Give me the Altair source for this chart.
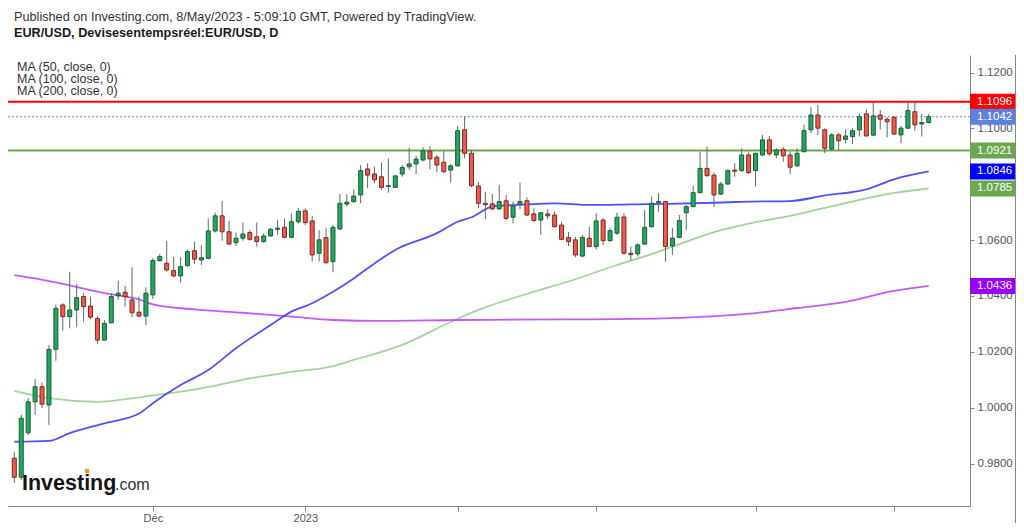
import altair as alt
import pandas as pd

HEADER = "Published on Investing.com, 8/May/2023 - 5:09:10 GMT, Powered by TradingView."
TITLE = "EUR/USD, Devisesentempsréel:EUR/USD, D"
MA_LABELS = ["MA (50, close, 0)", "MA (100, close, 0)", "MA (200, close, 0)"]

# Daily OHLC, 3 Nov 2022 .. 8 May 2023 (bar index 0..132)
opens = [0.9819, 0.9751, 0.9910, 1.0021, 1.0075, 1.0010, 1.0209, 1.0368, 1.0326, 1.0350,
         1.0398, 1.0364, 1.0319, 1.0242, 1.0304, 1.0401, 1.0413, 1.0386, 1.0342, 1.0328,
         1.0404, 1.0527, 1.0517, 1.0491, 1.0472, 1.0509, 1.0562, 1.0529, 1.0535, 1.0633,
         1.0687, 1.0630, 1.0591, 1.0607, 1.0627, 1.0612, 1.0595, 1.0615, 1.0639, 1.0646,
         1.0610, 1.0666, 1.0705, 1.0669, 1.0553, 1.0609, 1.0523, 1.0640, 1.0729, 1.0738,
         1.0762, 1.0855, 1.0837, 1.0827, 1.0792, 1.0789, 1.0837, 1.0863, 1.0873, 1.0887,
         1.0919, 1.0897, 1.0879, 1.0851, 1.0866, 1.0995, 1.0911, 1.0794, 1.0732, 1.0730,
         1.0712, 1.0741, 1.0682, 1.0729, 1.0741, 1.0694, 1.0672, 1.0694, 1.0690, 1.0654,
         1.0609, 1.0601, 1.0543, 1.0607, 1.0577, 1.0672, 1.0598, 1.0625, 1.0683, 1.0553,
         1.0551, 1.0586, 1.0648, 1.0734, 1.0738, 1.0579, 1.0610, 1.0698, 1.0720, 1.0770,
         1.0857, 1.0833, 1.0765, 1.0801, 1.0851, 1.0849, 1.0905, 1.0849, 1.0905, 1.0959,
         1.0905, 1.0925, 1.0905, 1.0866, 1.0917, 1.0995, 1.1048, 1.0995, 1.0926, 1.0977,
         1.0961, 1.0971, 1.0995, 1.1052, 1.0976, 1.1048, 1.1033, 1.1040, 1.0977, 1.1001,
         1.1060, 1.1016, 1.1021]
highs = [0.9842, 0.9974, 1.0034, 1.0102, 1.0090, 1.0225, 1.0370, 1.0374, 1.0487, 1.0443,
         1.0410, 1.0398, 1.0328, 1.0314, 1.0410, 1.0455, 1.0436, 1.0503, 1.0398, 1.0431,
         1.0535, 1.0551, 1.0598, 1.0539, 1.0539, 1.0567, 1.0595, 1.0582, 1.0678, 1.0698,
         1.0740, 1.0669, 1.0627, 1.0663, 1.0636, 1.0663, 1.0625, 1.0643, 1.0672, 1.0678,
         1.0696, 1.0716, 1.0714, 1.0687, 1.0636, 1.0643, 1.0654, 1.0765, 1.0764, 1.0782,
         1.0869, 1.0875, 1.0863, 1.0878, 1.0893, 1.0833, 1.0869, 1.0931, 1.0902, 1.0933,
         1.0937, 1.0905, 1.0920, 1.0873, 1.1009, 1.1042, 1.0923, 1.0809, 1.0774, 1.0765,
         1.0798, 1.0762, 1.0738, 1.0806, 1.0754, 1.0714, 1.0702, 1.0711, 1.0702, 1.0666,
         1.0630, 1.0612, 1.0619, 1.0648, 1.0696, 1.0678, 1.0643, 1.0698, 1.0697, 1.0577,
         1.0589, 1.0708, 1.0756, 1.0768, 1.0741, 1.0643, 1.0690, 1.0726, 1.0794, 1.0917,
         1.0935, 1.0842, 1.0809, 1.0854, 1.0875, 1.0929, 1.0917, 1.0913, 1.0977, 1.0973,
         1.0929, 1.0934, 1.0917, 1.0929, 1.1013, 1.1076, 1.1084, 1.1001, 1.0983, 1.0983,
         1.0997, 1.1001, 1.1054, 1.1069, 1.1096, 1.1066, 1.1040, 1.1045, 1.1009, 1.1096,
         1.1096, 1.1052, 1.1052]
lows = [0.9731, 0.9741, 0.9902, 0.9974, 0.9998, 0.9938, 1.0168, 1.0276, 1.0284, 1.0290,
        1.0308, 1.0317, 1.0227, 1.0240, 1.0302, 1.0386, 1.0362, 1.0324, 1.0324, 1.0296,
        1.0390, 1.0523, 1.0487, 1.0467, 1.0448, 1.0505, 1.0514, 1.0511, 1.0532, 1.0627,
        1.0598, 1.0583, 1.0579, 1.0598, 1.0598, 1.0577, 1.0591, 1.0612, 1.0619, 1.0607,
        1.0607, 1.0660, 1.0654, 1.0523, 1.0523, 1.0517, 1.0485, 1.0636, 1.0720, 1.0734,
        1.0732, 1.0786, 1.0804, 1.0780, 1.0770, 1.0786, 1.0827, 1.0851, 1.0837, 1.0881,
        1.0854, 1.0843, 1.0840, 1.0806, 1.0863, 1.0893, 1.0790, 1.0714, 1.0675, 1.0708,
        1.0708, 1.0672, 1.0660, 1.0711, 1.0687, 1.0666, 1.0619, 1.0675, 1.0646, 1.0601,
        1.0579, 1.0539, 1.0539, 1.0575, 1.0567, 1.0583, 1.0595, 1.0619, 1.0548, 1.0527,
        1.0541, 1.0583, 1.0646, 1.0702, 1.0523, 1.0547, 1.0607, 1.0636, 1.0718, 1.0768,
        1.0827, 1.0718, 1.0762, 1.0798, 1.0827, 1.0845, 1.0837, 1.0792, 1.0902, 1.0902,
        1.0893, 1.0881, 1.0837, 1.0863, 1.0913, 1.0983, 1.0977, 1.0911, 1.0920, 1.0920,
        1.0947, 1.0944, 1.0971, 1.0971, 1.0973, 1.0997, 1.0968, 1.0977, 1.0947, 1.0997,
        1.0992, 1.0971, 1.1019]
closes = [0.9751, 0.9962, 1.0021, 1.0075, 1.0013, 1.0209, 1.0356, 1.0326, 1.0350, 1.0394,
          1.0362, 1.0324, 1.0242, 1.0302, 1.0398, 1.0410, 1.0398, 1.0340, 1.0328, 1.0410,
          1.0527, 1.0541, 1.0493, 1.0472, 1.0505, 1.0559, 1.0532, 1.0537, 1.0633, 1.0687,
          1.0630, 1.0586, 1.0607, 1.0622, 1.0603, 1.0595, 1.0615, 1.0639, 1.0643, 1.0610,
          1.0666, 1.0703, 1.0663, 1.0547, 1.0601, 1.0519, 1.0646, 1.0732, 1.0736, 1.0758,
          1.0849, 1.0833, 1.0816, 1.0789, 1.0795, 1.0830, 1.0860, 1.0873, 1.0890, 1.0920,
          1.0891, 1.0869, 1.0845, 1.0866, 1.0992, 1.0911, 1.0795, 1.0732, 1.0727, 1.0712,
          1.0738, 1.0678, 1.0722, 1.0738, 1.0690, 1.0670, 1.0698, 1.0687, 1.0648, 1.0603,
          1.0595, 1.0547, 1.0610, 1.0577, 1.0669, 1.0598, 1.0634, 1.0682, 1.0553, 1.0548,
          1.0583, 1.0646, 1.0732, 1.0738, 1.0577, 1.0607, 1.0670, 1.0720, 1.0770, 1.0857,
          1.0831, 1.0762, 1.0801, 1.0849, 1.0847, 1.0905, 1.0842, 1.0911, 1.0959, 1.0909,
          1.0923, 1.0902, 1.0861, 1.0911, 1.0992, 1.1048, 1.1001, 1.0929, 1.0977, 1.0956,
          1.0973, 1.0992, 1.1042, 1.0973, 1.1045, 1.1033, 1.1024, 1.0980, 1.1001, 1.1064,
          1.1013, 1.1021, 1.1042]

# Moving averages (read at sample bars)
ma50_idx = [0, 5, 8, 13, 18, 20, 24, 28, 32, 37, 40, 43, 46, 49, 51, 55, 61, 64, 66, 69,
            74, 78, 83, 89, 94, 101, 106, 112, 117, 123, 127, 132]
ma50_val = [0.9878, 0.9881, 0.9909, 0.9944, 0.9979, 1.0016, 1.0081, 1.0135, 1.0213, 1.0296,
            1.0344, 1.0374, 1.0415, 1.0463, 1.0499, 1.0565, 1.0625, 1.0666, 1.0682, 1.0720,
            1.0728, 1.0732, 1.0726, 1.0728, 1.0730, 1.0734, 1.0738, 1.0740, 1.0760, 1.0782,
            1.0818, 1.0846]
ma100_idx = [0, 5, 12, 18, 23, 27, 34, 39, 46, 49, 56, 63, 67, 73, 81, 87, 92, 97, 102,
             105, 112, 120, 127, 132]
ma100_val = [1.0060, 1.0034, 1.0021, 1.0037, 1.0054, 1.0069, 1.0105, 1.0125, 1.0149, 1.0171,
             1.0225, 1.0307, 1.0350, 1.0400, 1.0460, 1.0511, 1.0550, 1.0595, 1.0636, 1.0654,
             1.0687, 1.0733, 1.0769, 1.0785]
ma200_idx = [0, 3, 8, 13, 18, 20, 26, 33, 40, 46, 53, 64, 79, 90, 99, 107, 113, 120, 127, 132]
ma200_val = [1.0475, 1.0463, 1.0438, 1.0410, 1.0388, 1.0370, 1.0352, 1.0340, 1.0326, 1.0314,
             1.0311, 1.0314, 1.0316, 1.0318, 1.0325, 1.0339, 1.0357, 1.0379, 1.0418, 1.0436]

month_tick_idx = [20, 42, 64, 84, 107, 127]
month_tick_labels = ["Déc", "2023", "", "", "", ""]
price_ticks = [0.98, 1.00, 1.02, 1.04, 1.06, 1.10, 1.12]   # 1.08 sits under the 1.0785 marker

resistance = 1.1096
support = 1.0921
last_close = 1.1042
marker_vals = [1.1096, 1.1042, 1.0921, 1.0846, 1.0785, 1.0436]

# ---------------- styles ----------------
FONT = "Liberation Sans"
MARKER_COLORS = ["#ff0000", "#5b80e0", "#6aa84f", "#0000ff", "#6aa84f", "#9900ff"]
UP_FILL, DOWN_FILL = "#1fa85f", "#ef5a4c"
UP_STROKE, DOWN_STROKE = "#1d5c38", "#7b2a22"
WICK = "#5b6b62"

W, H = 962, 451

candles = pd.DataFrame({"i": list(range(len(opens))), "open": opens, "high": highs,
                        "low": lows, "close": closes})
candles["dir"] = ["up" if c >= o else "down" for o, c in zip(opens, closes)]

xs = alt.Scale(domain=[-0.19, 137.24], nice=False, zero=False)
ys = alt.Scale(domain=[0.9648, 1.1263], nice=False, zero=False)

label_expr = "".join(
    f"datum.value == {v} ? '{l}' : " for v, l in zip(month_tick_idx, month_tick_labels)
) + "''"
xax = alt.Axis(values=month_tick_idx, labelExpr=label_expr, title=None, grid=False,
               tickSize=5, tickColor="#888888", domainColor="#888888", labelColor="#555555",
               labelFontSize=11, labelFont=FONT, labelPadding=1, labelFlush=False)
yax = alt.Axis(orient="right", values=price_ticks, format=".4f", title=None, grid=False,
               tickSize=4, tickColor="#888888", domainColor="#888888", labelColor="#555555",
               labelFontSize=11.5, labelFont=FONT, labelPadding=3, labelFlush=False)


def X(f):
    return alt.X(f, scale=xs, axis=xax, title=None)


def Y(f):
    return alt.Y(f, scale=ys, axis=yax, title=None)


def ma_layer(idx, val, color, width):
    df = pd.DataFrame({"i": idx, "v": val})
    return alt.Chart(df).mark_line(color=color, strokeWidth=width,
                                   interpolate="monotone").encode(x=X("i:Q"), y=Y("v:Q"))


ma50 = ma_layer(ma50_idx, ma50_val, "#4f50ff", 1.8)
ma100 = ma_layer(ma100_idx, ma100_val, "#a2d59c", 1.8)
ma200 = ma_layer(ma200_idx, ma200_val, "#c05aff", 1.8)

res_line = alt.Chart(pd.DataFrame({"v": [resistance]})).mark_rule(
    color="#ff0000", strokeWidth=2).encode(y=Y("v:Q"))
sup_line = alt.Chart(pd.DataFrame({"v": [support]})).mark_rule(
    color="#6aa84f", strokeWidth=2).encode(y=Y("v:Q"))
last_line = alt.Chart(pd.DataFrame({"v": [last_close]})).mark_rule(
    color="#6d8fe8", strokeWidth=1, strokeDash=[2, 2]).encode(y=Y("v:Q"))

wicks = alt.Chart(candles).mark_rule(color=WICK, strokeWidth=1).encode(
    x=X("i:Q"), y=Y("low:Q"), y2="high:Q")
bodies = alt.Chart(candles).mark_bar(size=4, strokeWidth=1).encode(
    x=X("i:Q"), y=Y("open:Q"), y2="close:Q",
    fill=alt.Fill("dir:N", scale=alt.Scale(domain=["up", "down"], range=[UP_FILL, DOWN_FILL]),
                  legend=None),
    stroke=alt.Stroke("dir:N", scale=alt.Scale(domain=["up", "down"],
                                               range=[UP_STROKE, DOWN_STROKE]), legend=None))

markers_df = pd.DataFrame({"v": marker_vals, "c": MARKER_COLORS,
                           "t": [f"{v:.4f}" for v in marker_vals]})
boxes = alt.Chart(markers_df).mark_tick(orient="horizontal", thickness=16, size=46,
                                        opacity=1).encode(
    x=alt.value(985), y=Y("v:Q"), color=alt.Color("c:N", scale=None, legend=None))
box_text = alt.Chart(markers_df).mark_text(align="left", baseline="middle", font=FONT,
                                           fontSize=11.5, color="white").encode(
    x=alt.value(969), y=Y("v:Q"), text="t:N")

outer_rule = alt.Chart(pd.DataFrame({"a": [0]})).mark_rule(color="#888888").encode(
    x=alt.value(1007.5), y=alt.value(0), y2=alt.value(468))


def fixed_text(txt, x, y, size, weight="normal", color="#333333"):
    return alt.Chart(pd.DataFrame({"t": [txt]})).mark_text(
        align="left", baseline="alphabetic", font=FONT, fontSize=size, fontWeight=weight,
        color=color).encode(x=alt.value(x), y=alt.value(y), text="t:N")


header = fixed_text(HEADER, 6, -34.5, 12.7)
title = fixed_text(TITLE, 6, -18.5, 12.7, "bold", "#1a1a1a")
ma_t1 = fixed_text(MA_LABELS[0], 9, 16, 12.5)
ma_t2 = fixed_text(MA_LABELS[1], 9, 28, 12.5)
ma_t3 = fixed_text(MA_LABELS[2], 9, 40, 12.5)

logo1 = fixed_text("Investing", 14, 435, 21.5, "bold", "#151515")
logo2 = fixed_text(".com", 107, 435, 16, "normal", "#333333")
logo_dot = alt.Chart(pd.DataFrame({"t": [0]})).mark_point(
    shape="square", filled=True, size=18, color="#f7931e", opacity=1).encode(
    x=alt.value(79), y=alt.value(416))

chart = alt.layer(
    ma100, ma200, ma50, res_line, sup_line, last_line, wicks, bodies,
    boxes, box_text, outer_rule, header, title, ma_t1, ma_t2, ma_t3,
    logo1, logo2, logo_dot
).properties(
    width=W, height=H,
    autosize=alt.AutoSizeParams(type="none"),
    padding={"left": 0, "top": 47, "right": 46, "bottom": 17},
    background="white",
).configure_view(strokeWidth=0)

chart.save("out.html", embed_options={"renderer": "svg", "actions": False})
